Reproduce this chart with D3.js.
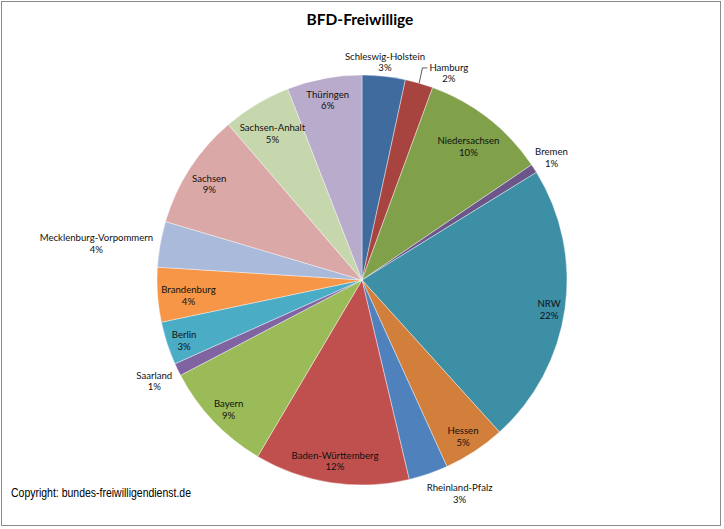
<!DOCTYPE html>
<html>

<head>
    <meta charset="UTF-8" />
    <style>
        body { margin: 0; background: #fff; }
        svg { display: block; }
    </style>
</head>

<body>
    <svg></svg>
    <script src="https://cdn.jsdelivr.net/npm/d3@7"></script>

    <script>
        // data (share in %, clockwise from 12 o'clock)
        const states = ["Schleswig-Holstein", "Hamburg", "Niedersachsen", "Bremen", "NRW", "Hessen",
            "Rheinland-Pfalz", "Baden-Württemberg", "Bayern", "Saarland", "Berlin", "Brandenburg",
            "Mecklenburg-Vorpommern", "Sachsen", "Sachsen-Anhalt", "Thüringen"];
        const shares = [3.4, 2.2, 9.9, 0.7, 22.1, 4.9, 3.1, 12.2, 8.8, 1.0, 3.4, 4.3, 3.6, 9.1, 5.4, 5.9];
        const title = "BFD-Freiwillige";
        const source = "Copyright: bundes-freiwilligendienst.de";

        let width = 724,
            height = 529;

        let svg = d3.select("svg").attr("width", width).attr("height", height);

        let colors = ["#3F6B9E", "#A8443F", "#80A04A", "#6C5589", "#3D8FA6", "#D27F3B",
            "#4F81BD", "#C0504D", "#9BBB59", "#8064A2", "#4BACC6", "#F79646",
            "#A9BADA", "#DAA8A7", "#C7D7AD", "#B8ABCC"];
        let color = d3.scaleOrdinal().domain(states).range(colors);

        // labels that Excel put outside the pie, plus small hand nudges
        const outside = new Set(["Schleswig-Holstein", "Hamburg", "Bremen", "Rheinland-Pfalz", "Saarland", "Mecklenburg-Vorpommern"]);
        const nudge = { "Schleswig-Holstein": [-4, 3], "Hamburg": [22, 6], "Bremen": [-3, -3], "Rheinland-Pfalz": [18, -2] };

        // frame
        svg.append("rect")
            .attr("x", 1.5).attr("y", 1.5)
            .attr("width", 719).attr("height", 524)
            .attr("fill", "none")
            .attr("stroke", "#8a8a8a");

        svg.append("text")
            .attr("x", 360).attr("y", 25)
            .attr("text-anchor", "middle")
            .style("font-family", "Lato, 'Open Sans', sans-serif")
            .style("font-weight", "bold")
            .style("font-size", "15.5px")
            .text(title);

        let cx = 362, cy = 280, R = 205;
        let total = d3.sum(shares);

        let pie = d3.pie().sort(null).value((d) => d.v);
        let arcs = pie(states.map((s, i) => ({ name: s, v: shares[i] })));
        let arc = d3.arc().innerRadius(0).outerRadius(R);

        let g = svg.append("g").attr("transform", "translate(" + cx + "," + cy + ")");

        g.selectAll("path")
            .data(arcs)
            .enter()
            .append("path")
            .attr("d", arc)
            .attr("fill", (d) => color(d.data.name))
            .attr("stroke", "#fff")
            .attr("stroke-width", 0.4);

        let labels = g.append("g")
            .style("font-family", "Lato, 'Open Sans', sans-serif")
            .style("font-size", "9.6px")
            .attr("fill", "#111");

        arcs.forEach((a) => {
            let mid = (a.startAngle + a.endAngle) / 2;
            let s = Math.sin(mid), c = -Math.cos(mid);
            let pct = Math.round(a.data.v / total * 100) + "%";

            let t = labels.append("text").attr("text-anchor", "middle");
            let l1 = t.append("tspan").attr("x", 0).attr("dy", "-0.25em").text(a.data.name);
            let l2 = t.append("tspan").attr("x", 0).attr("dy", "1.2em").text(pct);
            let w = Math.max(l1.node().getComputedTextLength(), l2.node().getComputedTextLength());
            let h = 24;

            let px, py;
            if (outside.has(a.data.name)) {
                let r = R + 8;
                px = s * r + s * w / 2;
                py = c * r + c * h / 2;
                let n = nudge[a.data.name] || [0, 0];
                px += n[0]; py += n[1];
            } else {
                // push the box out until its far corner nearly touches the rim
                let d = 0;
                for (let k = 0; k < 200; k++) {
                    let x = s * d, y = c * d;
                    let far = Math.hypot(Math.abs(x) + w / 2, Math.abs(y) + h / 2);
                    if (far > R - 3) break;
                    d += 1;
                }
                px = s * d; py = c * d;
            }
            t.attr("transform", "translate(" + px + "," + (py + 3) + ")");

            if (a.data.name === "Hamburg") {
                let x0 = s * R, y0 = c * R;
                let xl = px - w / 2 - 2;
                labels.append("polyline")
                    .attr("points", [[x0, y0], [xl - 5, py - 2], [xl, py - 2]].map((p) => p.join(",")).join(" "))
                    .attr("fill", "none")
                    .attr("stroke", "#333")
                    .attr("stroke-width", 0.8);
            }
        });

        svg.append("text")
            .attr("x", 11).attr("y", 497)
            .attr("textLength", 180)
            .attr("lengthAdjust", "spacingAndGlyphs")
            .style("font-family", "'Liberation Sans', Arial, sans-serif")
            .style("font-size", "12px")
            .text(source);
    </script>
</body>

</html>
